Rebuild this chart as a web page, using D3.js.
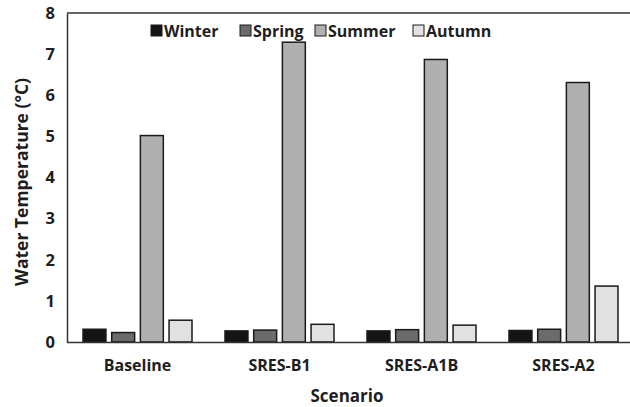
<!DOCTYPE html>
<html><head><meta charset="utf-8">
<script src="https://cdn.jsdelivr.net/npm/d3@7"></script>
<style>body{margin:0;background:#fff}svg{display:block}</style>
</head><body>
<script>
const categories = ["Baseline", "SRES-B1", "SRES-A1B", "SRES-A2"];
const seasons = ["Winter", "Spring", "Summer", "Autumn"];
const winter = [0.31, 0.27, 0.27, 0.28];
const spring = [0.23, 0.29, 0.30, 0.31];
const summer = [5.02, 7.29, 6.87, 6.31];
const autumn = [0.53, 0.43, 0.41, 1.36];
const yTicks = [0, 1, 2, 3, 4, 5, 6, 7, 8];
const colors = ["#141414", "#6b6b6b", "#b0b0b0", "#e1e1e1"];

(function () {
const series = [winter, spring, summer, autumn];
const W = 630, H = 407;
const mLeft = 67, mTop = 13, mBottom = 342, mRight = 635;
const font = "'Open Sans', 'DejaVu Sans', sans-serif";

const svg = d3.select("body").append("svg").attr("width", W).attr("height", H);
const x0 = d3.scaleBand().domain(categories).range([mLeft - 0.5, mRight - 0.5]).padding(0);
const x1 = d3.scaleBand().domain(seasons).range([16.5, x0.bandwidth() - 16.5]).paddingInner(0.2);
const y = d3.scaleLinear().domain([0, 8]).range([mBottom, mTop]);

categories.forEach((c, i) => {
  const g = svg.append("g").attr("transform", `translate(${x0(c)},0)`);
  seasons.forEach((s, j) => {
    g.append("rect")
      .attr("x", x1(s)).attr("width", x1.bandwidth())
      .attr("y", y(series[j][i])).attr("height", y(0) - y(series[j][i]))
      .attr("fill", colors[j]).attr("stroke", "#1a1a1a").attr("stroke-width", 1.5);
  });
});

svg.append("line").attr("x1", mLeft).attr("x2", W).attr("y1", mTop).attr("y2", mTop).attr("stroke", "#333").attr("stroke-width", 1.5);

const yAxis = d3.axisLeft(y).tickValues(yTicks).tickSize(0).tickPadding(12);
const ya = svg.append("g").attr("transform", `translate(${mLeft},0)`).call(yAxis);
ya.select(".domain").attr("stroke", "#333").attr("stroke-width", 1.5);
ya.selectAll("text").attr("font-family", font).attr("font-weight", "bold").attr("font-size", 16.5).attr("fill", "#1e1e1e");

const xAxis = d3.axisBottom(x0).tickSize(0).tickPadding(18);
const xa = svg.append("g").attr("transform", `translate(0,${mBottom})`).call(xAxis);
xa.select(".domain").attr("stroke", "#333").attr("stroke-width", 1.5);
xa.selectAll("text").attr("font-family", font).attr("font-weight", "bold").attr("font-size", 16).attr("fill", "#1e1e1e");

svg.append("text").attr("x", 347).attr("y", 402).attr("text-anchor", "middle")
  .attr("font-family", font).attr("font-weight", "bold").attr("font-size", 17).attr("fill", "#1e1e1e").text("Scenario");
svg.append("text").attr("transform", "translate(28,182) rotate(-90)").attr("text-anchor", "middle")
  .attr("font-family", font).attr("font-weight", "bold").attr("font-size", 17.5).attr("fill", "#1e1e1e").text("Water Temperature (°C)");

const legX = [151, 240, 315, 413];
seasons.forEach((s, j) => {
  const g = svg.append("g").attr("transform", `translate(${legX[j]},25)`);
  g.append("rect").attr("x", 0).attr("y", 0).attr("width", 11).attr("height", 11)
    .attr("fill", colors[j]).attr("stroke", "#1a1a1a").attr("stroke-width", 1);
  g.append("text").attr("x", 13).attr("y", 11.5).attr("font-family", font).attr("font-weight", "bold")
    .attr("font-size", 16).attr("fill", "#1e1e1e").text(s);
});
})();
</script>
</body></html>
